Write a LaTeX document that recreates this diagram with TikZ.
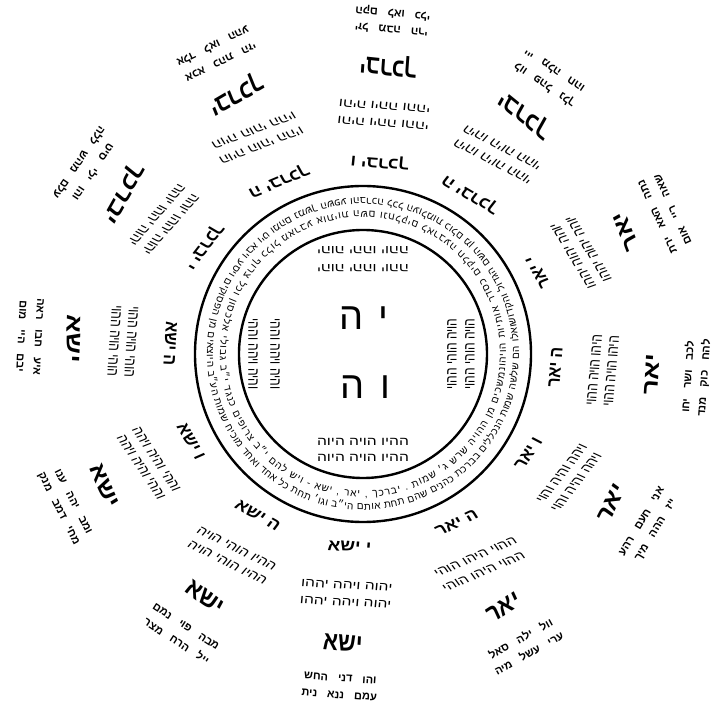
\documentclass[tikz,border=0pt]{standalone}
\usepackage{fontspec}
\newfontfamily\heb[Script=Hebrew]{Liberation Sans}
\TeXXeTstate=1
\usetikzlibrary{decorations.text}

\ExplSyntaxOn
\cs_new:Npn \revtext #1 { \tl_reverse:n {#1} }
\ExplSyntaxOff

\newcommand{\rtl}[1]{\beginR#1\endR}
\newcommand{\ringfont}{\heb\fontsize{10}{10}\selectfont}

% ring texts, reversed so that they run counter-clockwise
\edef\ringOuter{|\noexpand\ringfont|\revtext{ואלו הם שלשה שמות הנכללים בברכת כהנים שהם תחת אותם הי״ב וגו׳ תחת כל אחד ואחד מוכיח שמות הע״ב היוצאים מן הפסוקים ויסע ויבא ויט ומהם נמשך השפע והברכה לכל העולמות כולם מן השם הגדול והקדוש}}
\edef\ringInner{|\noexpand\ringfont|\revtext{ונמשכים מן ההויה שרש ג׳ שמות . יברכך , יאר , ישא - ויש להם י״ב צרופים כנגד י״ב גבולי אלכסון וכל צרוף כלול מארבע אותיות השם ונחלקים לארבעה חלקים כסדר אותיות הויה}}

\begin{document}
\begin{tikzpicture}[x=1pt,y=1pt,
    lab/.style={font=\heb\bfseries\fontsize{16}{16}\selectfont, inner sep=0pt, xscale=1.15},
    perm/.style={font=\heb\fontsize{12}{12}\selectfont, inner sep=0pt, xscale=1.3},
    big/.style={font=\heb\bfseries\fontsize{22}{22}\selectfont, inner sep=0pt, yscale=1.2},
    names/.style={font={\heb\bfseries\fontsize{11}{11}\selectfont\spaceskip=10pt}, inner sep=0pt},
    letter/.style={font=\heb\fontsize{38}{38}\selectfont, inner sep=0pt},
    ringline/.style={line width=2.4pt}]
        % Define radii
        \def\rOut{168}
        \def\rIn{124}
        \def\rLab{193}
        \def\rPa{232}
        \def\rPb{249}
        \def\rBig{290}
        \def\rNa{325}
        \def\rNb{342}
        \useasboundingbox (-363,-360) rectangle (362,354);
        \fill[white] (-363,-360) rectangle (362,354);
        \coordinate (c) at (0,0);
        % Two rings
        \draw[ringline] (c) circle[radius=\rOut];
        \draw[ringline] (c) circle[radius=\rIn];
        % Text between the rings
        \path[decorate, decoration={text along path, text/.expand once=\ringOuter, text align={fit to path}}]
            (11:156) arc[start angle=11, end angle=371, radius=156];
        \path[decorate, decoration={text along path, text/.expand once=\ringInner, text align={fit to path}}]
            (-4:143) arc[start angle=-4, end angle=356, radius=143];
        % Name in the centre
        \node[letter] (yod) at (20,36) {י};
        \node[letter] (he-a) at (-11,36) {ה};
        \node[letter] (vav) at (22,-33) {ו};
        \node[letter] (he-b) at (-10,-33) {ה};
        % Inner rows
        \node[perm, rotate=180] (in-t-a) at (90:104) {\rtl{יהוה יההו יוהה}};
        \node[perm, rotate=180] (in-t-b) at (90:86) {\rtl{יהוה יההו יוהה}};
        \node[perm, rotate=90] (in-r-a) at (0:89) {\rtl{הויה הוהי ההוי}};
        \node[perm, rotate=90] (in-r-b) at (0:107) {\rtl{הויה הוהי ההוי}};
        \node[perm] (in-b-a) at (-90:88) {\rtl{ההיו הויה היוה}};
        \node[perm] (in-b-b) at (-90:104) {\rtl{ההיו הויה היוה}};
        \node[perm, rotate=270] (in-l-a) at (180:88) {\rtl{והיה ויהה וההי}};
        \node[perm, rotate=270] (in-l-b) at (180:110) {\rtl{והיה ויהה וההי}};
        % Twelve sectors outside the rings
        \foreach \ang/\pre/\wrd/\prm/\nmA/\nmB [count=\k] in {
            146/י/יברכך/{יהוה יההו יוהה}/{והו ילי סיט}/{עלם מהש ללה},
            116/ה/יברכך/{הויה הוהי ההיו}/{אכא כהת הזי}/{אלד לאו ההע},
            85/ו/יברכך/{והיה ויהה וההי}/{יזל מבה הרי}/{הקם לאו כלי},
            56/ה/יברכך/{היהו היוה ההוי}/{לוו פהל נלך}/{ייי מלה חהו},
            25/י/יאר/{יוהה יהוה יההו}/{נתה האא ירת}/{שאה ריי אום},
            -4/ה/יאר/{היהו הויה ההוי}/{לכב ושר יחו}/{להח כוק מנד},
            -31/ו/יאר/{ויהה והיה והוי}/{אני חעם רהע}/{ייז ההה מיך},
            -61/ה/יאר/{ההוי היהו הוהי}/{וול ילה סאל}/{ערי עשל מיה},
            -94/י/ישא/{יהוה ויהה יההו}/{והו דני החש}/{עמם ננא נית},
            -123/ה/ישא/{ההיו הוהי הויה}/{מבה פוי נמם}/{ייל הרח מצר},
            -153/ו/ישא/{וההי והיה ויהה}/{ומב יהה ענו}/{מחי דמב מנק},
            177/ה/ישא/{הוהי הויה ההוי}/{איע חבו ראה}/{יבם היי מום}}{
            \node[lab, rotate=\ang+90] (lab-\k) at (\ang:\rLab) {\rtl{\pre\ \wrd}};
            \node[perm, rotate=\ang+90] (perm-\k-a) at (\ang:\rPa) {\rtl{\prm}};
            \node[perm, rotate=\ang+90] (perm-\k-b) at (\ang:\rPb) {\rtl{\prm}};
            \node[big, rotate=\ang+90] (big-\k) at (\ang:\rBig) {\rtl{\wrd}};
            \node[names, rotate=\ang+90] (nm-\k-a) at (\ang:\rNa) {\rtl{\nmA}};
            \node[names, rotate=\ang+90] (nm-\k-b) at (\ang:\rNb) {\rtl{\nmB}};
        }
    \end{tikzpicture}
\end{document}
